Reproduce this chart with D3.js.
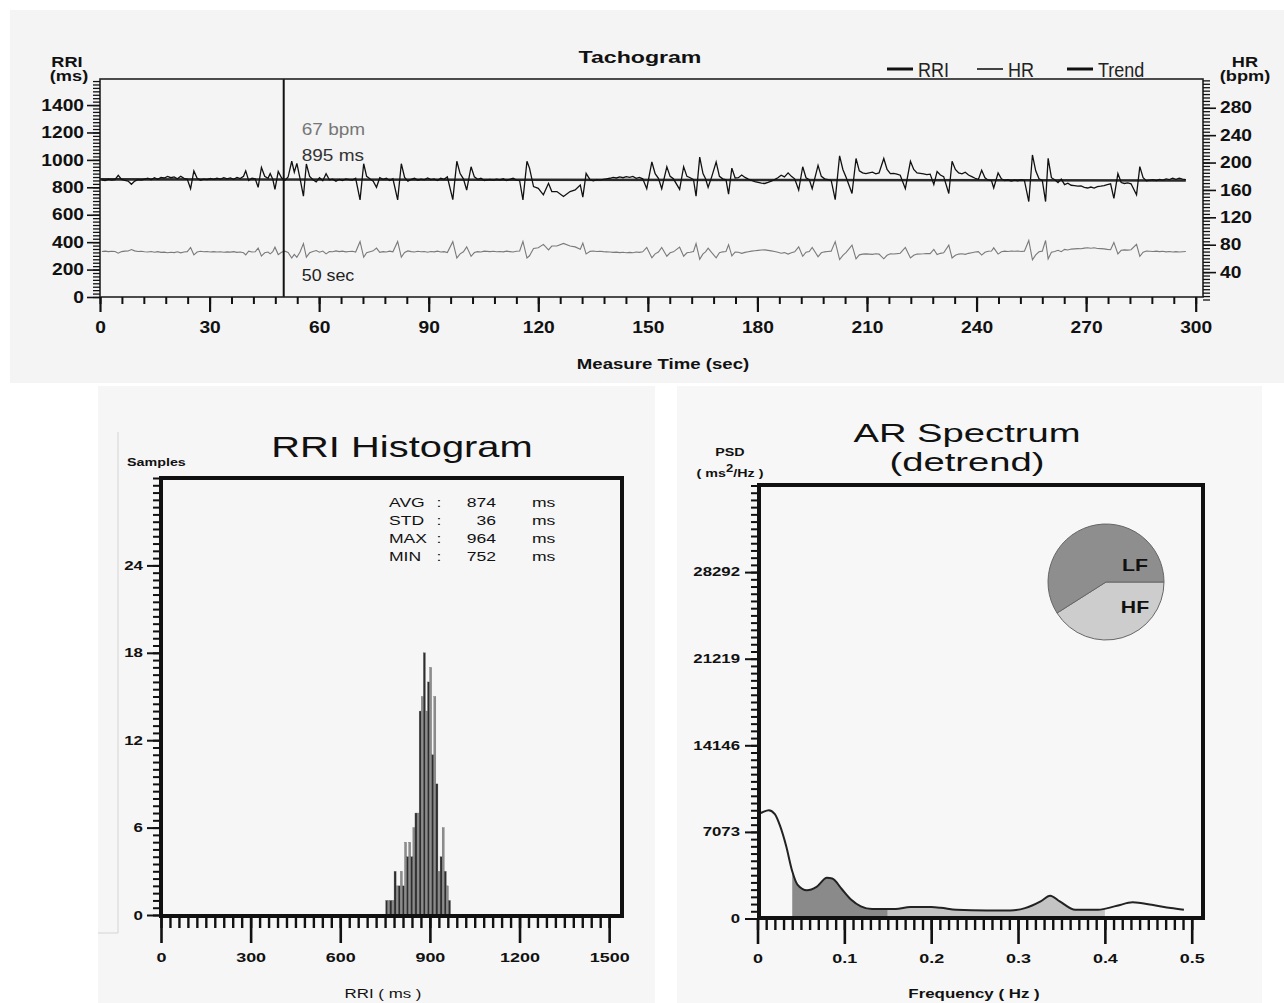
<!DOCTYPE html>
<html>
<head>
<meta charset="utf-8">
<script src="https://cdn.jsdelivr.net/npm/d3@7"></script>
<style>
  body { margin: 0; background: #fff; }
  svg { display: block; font-family: "Liberation Sans", Arial, sans-serif; }
</style>
</head>
<body>
<svg id="chart" width="1284" height="1003"></svg>
<script>
// ---- tachogram data: [time (s), RRI (ms)] read beat by beat off the trace
const rriBeats = [
  [0.5,855],[1.4,850],[2.3,858],[3.2,852],[4.1,856],[5.0,888],[5.9,858],[6.8,850],[7.7,846],[8.6,822],
  [9.5,845],[10.4,856],[11.3,852],[12.2,860],[13.1,866],[14.0,855],[14.9,870],[15.8,858],[16.7,872],[17.6,868],
  [18.5,880],[19.4,870],[20.3,876],[21.2,862],[22.1,880],[23.0,866],[23.9,858],[24.8,790],[25.7,920],[26.6,866],
  [27.5,852],[28.4,860],[29.3,856],[30.2,864],[31.1,858],[32.0,866],[33.0,860],[33.9,870],[34.8,862],[35.7,868],
  [36.6,858],[37.5,872],[38.4,864],[39.3,880],[39.9,920],[40.7,850],[41.6,866],[42.5,862],[43.3,800],[44.2,945],
  [45.1,880],[46.0,866],[46.6,900],[47.3,860],[47.9,785],[48.8,915],[49.7,870],[50.6,850],[51.5,875],[52.5,990],
  [53.2,910],[53.9,975],[54.8,860],[55.7,735],[56.5,970],[57.4,880],[58.3,855],[59.2,840],[60.1,870],[61.0,848],
  [61.9,900],[62.8,855],[63.7,860],[64.6,845],[65.5,858],[66.4,850],[67.3,862],[68.2,856],[69.1,852],[70.0,866],
  [71.2,708],[72.2,972],[73.0,880],[73.9,862],[74.8,845],[75.7,800],[76.6,870],[77.5,858],[78.4,866],[79.3,850],
  [80.2,862],[81.5,708],[82.5,972],[83.4,872],[84.3,845],[85.2,858],[86.1,866],[87.0,852],[87.9,860],[88.8,855],
  [89.7,868],[90.6,856],[91.5,862],[92.4,850],[93.3,866],[94.2,858],[95.1,876],[96.6,710],[97.7,990],[98.6,900],
  [99.5,862],[100.4,780],[101.6,950],[102.5,876],[103.4,858],[104.3,866],[105.2,850],[106.8,858],[107.7,852],[108.6,860],
  [109.5,855],[110.4,862],[111.3,850],[112.2,858],[113.1,866],[114.0,852],[114.9,848],[115.8,708],[116.9,990],[117.6,940],
  [118.7,805],[120.0,793],[121.4,745],[122.8,829],[123.7,769],[125.1,769],[126.9,733],[128.7,769],[130.1,781],[131.5,817],
  [132.2,728],[133.1,902],[134.2,854],[135.1,848],[136.0,856],[136.9,852],[137.8,858],[138.7,862],[139.6,866],[140.5,872],
  [141.4,868],[142.3,876],[143.2,870],[144.1,878],[145.0,872],[145.9,880],[146.8,866],[147.7,872],[148.6,862],[149.7,790],
  [151.1,985],[152.0,900],[152.9,866],[153.8,790],[155.2,950],[156.1,880],[157.0,862],[158.7,785],[159.8,950],[160.7,880],
  [161.6,870],[162.5,856],[163.2,735],[164.2,1020],[165.1,900],[165.8,862],[166.5,800],[167.5,878],[168.7,985],[169.6,880],
  [170.5,862],[171.4,855],[172.1,750],[173.0,940],[173.9,868],[174.8,870],[175.7,890],[176.6,872],[177.5,860],[178.4,850],
  [179.3,842],[180.2,836],[181.1,830],[182.0,828],[182.9,836],[183.8,845],[184.7,856],[185.6,870],[186.5,888],[187.4,876],
  [188.4,905],[189.3,880],[190.2,862],[191.3,780],[192.4,950],[193.3,870],[194.2,856],[195.0,790],[196.6,960],[197.5,880],
  [198.4,862],[199.3,856],[200.2,850],[201.3,710],[202.5,1030],[203.4,930],[204.3,872],[205.9,755],[207.0,1010],[207.9,920],
  [208.8,905],[209.7,900],[210.6,905],[211.5,910],[212.4,898],[213.3,905],[214.6,1010],[215.5,930],[216.4,900],[217.3,902],
  [218.2,896],[219.1,888],[220.5,790],[221.9,990],[222.8,930],[223.7,905],[224.6,902],[225.5,898],[226.4,892],[227.3,896],
  [228.3,820],[229.2,915],[230.1,890],[231.0,878],[232.4,755],[233.3,990],[234.2,930],[235.1,905],[236.0,898],[236.9,910],
  [237.8,890],[238.7,878],[239.6,866],[240.5,858],[241.4,925],[242.3,870],[243.2,852],[244.1,848],[244.7,795],[245.9,905],
  [246.8,862],[247.7,850],[248.6,855],[249.5,846],[250.4,852],[251.3,848],[252.2,856],[253.1,850],[254.3,696],[255.3,1036],
  [256.2,920],[257.1,862],[258.0,850],[258.9,696],[259.6,1011],[260.5,870],[261.4,855],[262.3,835],[263.2,860],[264.1,820],
  [265.0,830],[265.9,815],[266.8,812],[267.7,808],[268.6,810],[269.5,800],[270.4,795],[271.3,802],[272.2,795],[273.1,805],
  [274.0,808],[274.9,812],[275.8,820],[276.7,825],[277.6,720],[278.7,900],[279.6,835],[280.5,828],[281.4,832],[282.3,826],
  [283.8,745],[284.7,951],[285.6,870],[286.5,848],[287.4,852],[288.3,856],[289.2,850],[290.1,858],[291.0,852],[291.9,862],
  [292.8,856],[293.7,866],[294.6,858],[295.5,866],[296.4,860],[297.3,856]
];
const trendTimes = [0, 297.3];
const trendValues = [858, 850];
const cursorTime = 50.3;
const cursorLabels = ["67 bpm", "895 ms", "50 sec"];
const legendItems = ["RRI", "HR", "Trend"];

// ---- histogram data
const binStarts = [752,759,766,773,780,787,794,801,808,815,822,829,836,843,850,857,864,871,878,885,892,899,906,913,920,927,934,941,948,955,962];
const binCounts = [1,1,1,1,3,2,2,3,2,5,4,5,4,6,7,7,14,15,18,14,16,17,11,15,9,3,4,6,3,2,1];
const binWidth = 7;
const statLabels = ["AVG", "STD", "MAX", "MIN"];
const statValues = [874, 36, 964, 752];

// ---- AR spectrum data
const freqs = [0,0.005,0.013,0.02,0.026,0.033,0.04,0.046,0.057,0.068,0.08,0.086,0.097,0.108,0.119,0.132,0.159,
  0.176,0.2,0.211,0.229,0.264,0.291,0.308,0.326,0.337,0.348,0.366,0.392,0.414,0.432,0.454,0.476,0.491];
const psd = [8520,8660,8850,8520,7560,5920,3860,2770,2300,2580,3320,3260,2410,1530,990,770,770,
  930,930,880,710,660,660,850,1400,1860,1400,710,710,1040,1320,1120,850,710];
const psdTicks = [0, 7073, 14146, 21219, 28292];
const pieLabels = ["HF", "LF"];
const pieValues = [41, 59];

const FONT = '"Liberation Sans", Arial, sans-serif';
const svg = d3.select("#chart");
const plain = d3.format("d");

// stretch text horizontally (the scan is wider than tall)
const stretch = (sel, k) => {
    sel.each(function() {
        const t = d3.select(this);
        const x = +t.attr("x") || 0, y = +t.attr("y") || 0;
        t.attr("transform", `translate(${x},${y}) scale(${k},1)`).attr("x", 0).attr("y", 0);
    });
};

const addText = (g, x, y, str, size, opts = {}) => {
    const t = g.append("text")
        .attr("x", x).attr("y", y)
        .attr("text-anchor", opts.anchor || "middle")
        .attr("font-size", size)
        .attr("font-weight", opts.bold ? "bold" : "normal")
        .attr("fill", opts.fill || "#111")
        .text(str);
    stretch(t, opts.k || 1.3);
    return t;
};

const styleAxis = (g, width, size, k, bold = true) => {
    g.select(".domain").remove();
    g.selectAll("line").attr("stroke", "#111").attr("stroke-width", width);
    g.selectAll("text")
        .attr("font-size", size)
        .attr("font-family", FONT)
        .attr("font-weight", bold ? "bold" : "normal")
        .attr("fill", "#111");
    stretch(g.selectAll("text"), k);
};

// ---- backgrounds
svg.append("rect").attr("x", 10).attr("y", 10).attr("width", 1274).attr("height", 373).attr("fill", "#f4f4f4");
svg.append("rect").attr("x", 98).attr("y", 386).attr("width", 557).attr("height", 617).attr("fill", "#f6f6f6");
svg.append("rect").attr("x", 677).attr("y", 386).attr("width", 585).attr("height", 617).attr("fill", "#f7f7f7");
svg.append("path").attr("d", "M118,432V933H98").attr("fill", "none").attr("stroke", "#d4d4d4").attr("stroke-width", 1);

// =============== Tachogram ===============
const tach = svg.append("g");
const xT = d3.scaleLinear().domain([0, 302]).range([100, 1203]);
const yRRI = d3.scaleLinear().domain([0, 1590]).range([297, 79]);
const yHR = d3.scaleLinear().domain([0, 322]).range([299.5, 79]);

const hrBeats = rriBeats.map(d => [d[0], 60000 / d[1]]);

tach.append("path")
    .datum(hrBeats)
    .attr("fill", "none")
    .attr("stroke", "#7a7a7a")
    .attr("stroke-width", 1.1)
    .attr("d", d3.line().x(d => xT(d[0])).y(d => yHR(d[1])));

tach.append("path")
    .datum(trendTimes.map((t, i) => [t, trendValues[i]]))
    .attr("fill", "none")
    .attr("stroke", "#2a2a2a")
    .attr("stroke-width", 2.6)
    .attr("d", d3.line().x(d => xT(d[0])).y(d => yRRI(d[1])));

tach.append("path")
    .datum(rriBeats)
    .attr("fill", "none")
    .attr("stroke", "#111")
    .attr("stroke-width", 1.3)
    .attr("d", d3.line().x(d => xT(d[0])).y(d => yRRI(d[1])));

// cursor
tach.append("line")
    .attr("x1", xT(cursorTime)).attr("x2", xT(cursorTime))
    .attr("y1", yRRI.range()[1]).attr("y2", yRRI.range()[0])
    .attr("stroke", "#111").attr("stroke-width", 2);
addText(tach, xT(cursorTime) + 18, 135, cursorLabels[0], 17, { anchor: "start", fill: "#777", k: 1.12 });
addText(tach, xT(cursorTime) + 18, 161, cursorLabels[1], 17, { anchor: "start", fill: "#333", k: 1.12 });
addText(tach, xT(cursorTime) + 18, 281, cursorLabels[2], 17, { anchor: "start", fill: "#222", k: 1.05 });

// frame
tach.append("rect")
    .attr("x", 100).attr("y", 79).attr("width", 1103).attr("height", 218)
    .attr("fill", "none").attr("stroke", "#222").attr("stroke-width", 1.6);

// left axis
tach.append("g").attr("transform", "translate(100,0)")
    .call(d3.axisLeft(yRRI).tickValues(d3.range(0, 1576, 25)).tickSize(7).tickFormat(""))
    .call(g => styleAxis(g, 1.3, 15, 1.2));
tach.append("g").attr("transform", "translate(100,0)")
    .call(d3.axisLeft(yRRI).tickValues(d3.range(0, 1401, 200)).tickSize(13).tickPadding(3).tickFormat(plain))
    .call(g => styleAxis(g, 1.6, 16, 1.2));

// right axis (HR)
tach.append("g").attr("transform", "translate(1203,0)")
    .call(d3.axisRight(yHR).tickValues(d3.range(0, 321, 5)).tickSize(7).tickFormat(""))
    .call(g => styleAxis(g, 1.3, 15, 1.2));
tach.append("g").attr("transform", "translate(1203,0)")
    .call(d3.axisRight(yHR).tickValues(d3.range(40, 281, 40)).tickSize(13).tickPadding(4).tickFormat(plain))
    .call(g => styleAxis(g, 1.6, 16, 1.2));

// bottom axis
tach.append("g").attr("transform", "translate(0,297)")
    .call(d3.axisBottom(xT).tickValues(d3.range(0, 301, 6)).tickSize(7).tickFormat(""))
    .call(g => styleAxis(g, 2, 15, 1.2));
tach.append("g").attr("transform", "translate(0,297)")
    .call(d3.axisBottom(xT).tickValues(d3.range(0, 301, 30)).tickSize(15).tickPadding(10).tickFormat(plain))
    .call(g => styleAxis(g, 2.2, 16, 1.2));

addText(tach, 640, 63, "Tachogram", 17, { bold: true, k: 1.36 });
addText(tach, 67, 67, "RRI", 14, { bold: true, k: 1.3 });
addText(tach, 69, 81, "(ms)", 14, { bold: true, k: 1.3 });
addText(tach, 1245, 67, "HR", 14, { bold: true, k: 1.3 });
addText(tach, 1245, 81, "(bpm)", 14, { bold: true, k: 1.3 });
addText(tach, 663, 369, "Measure Time (sec)", 14, { bold: true, k: 1.33 });

// legend
const legend = tach.selectAll(".legend")
    .data(legendItems)
    .join("g")
        .attr("class", "legend")
        .attr("transform", (d, i) => `translate(${887 + i * 90},0)`);
legend.append("line")
    .attr("x1", 0).attr("x2", 26).attr("y1", 69).attr("y2", 69)
    .attr("stroke", (d, i) => i === 1 ? "#444" : "#111")
    .attr("stroke-width", (d, i) => i === 1 ? 2 : 3);
legend.each(function(d) {
    addText(d3.select(this), 31, 77, d, 20, { anchor: "start", k: 0.9, fill: "#222" });
});

// =============== RRI Histogram ===============
const hist = svg.append("g");
const xH = d3.scaleLinear().domain([0, 1543]).range([161, 622]);
const yH = d3.scaleLinear().domain([0, 30]).range([915, 478]);

hist.selectAll("rect.bar")
    .data(binStarts)
    .join("rect")
        .attr("class", "bar")
        .attr("x", d => xH(d))
        .attr("width", d => xH(d + binWidth) - xH(d))
        .attr("y", (d, i) => yH(binCounts[i]))
        .attr("height", (d, i) => yH(0) - yH(binCounts[i]))
        .attr("fill", (d, i) => i % 2 === 0 ? "#2e2e2e" : "#8c8c8c")
        .attr("stroke", "#666")
        .attr("stroke-width", 0.3);

hist.append("rect")
    .attr("x", 161).attr("y", 478).attr("width", 461).attr("height", 438)
    .attr("fill", "none").attr("stroke", "#111").attr("stroke-width", 4);

hist.append("g").attr("transform", "translate(159,0)")
    .call(d3.axisLeft(yH).tickValues(d3.range(0, 30.1, 0.5)).tickSize(6).tickFormat(""))
    .call(g => styleAxis(g, 2, 13, 1.3));
hist.append("g").attr("transform", "translate(159,0)")
    .call(d3.axisLeft(yH).tickValues([0, 6, 12, 18, 24]).tickSize(12).tickPadding(4).tickFormat(plain))
    .call(g => styleAxis(g, 2, 13, 1.3));
hist.append("g").attr("transform", "translate(0,918)")
    .call(d3.axisBottom(xH).tickValues(d3.range(0, 1501, 30)).tickSize(10).tickFormat(""))
    .call(g => styleAxis(g, 2.4, 13, 1.3));
hist.append("g").attr("transform", "translate(0,918)")
    .call(d3.axisBottom(xH).tickValues(d3.range(0, 1501, 300)).tickSize(25).tickPadding(9).tickFormat(plain))
    .call(g => styleAxis(g, 2.6, 13.5, 1.33));

addText(hist, 402, 457, "RRI Histogram", 30, { k: 1.33 });
addText(hist, 127, 466, "Samples", 11, { anchor: "start", bold: true, k: 1.3 });
addText(hist, 383, 998, "RRI ( ms )", 13, { k: 1.3 });

statLabels.forEach((lab, i) => {
    const y = 507 + i * 18;
    addText(hist, 389, y, lab, 13.5, { anchor: "start", k: 1.3 });
    addText(hist, 439, y, ":", 13.5, { k: 1.3 });
    addText(hist, 496, y, statValues[i], 13.5, { anchor: "end", k: 1.3 });
    addText(hist, 532, y, "ms", 13.5, { anchor: "start", k: 1.3 });
});

// =============== AR Spectrum ===============
const spec = svg.append("g");
const xS = d3.scaleLinear().domain([0, 0.513]).range([757.5, 1203]);
const yS = d3.scaleLinear().domain([0, 35365]).range([918.5, 485.5]);
const specData = freqs.map((f, i) => [f, psd[i]]);

const bands = [
    { id: "lf", lo: 0.04, hi: 0.15, fill: "#8a8a8a" },
    { id: "hf", lo: 0.15, hi: 0.40, fill: "#c4c4c4" }
];
const defs = svg.append("defs");
bands.forEach(b => {
    defs.append("clipPath").attr("id", "clip-" + b.id)
        .append("rect")
        .attr("x", xS(b.lo)).attr("width", xS(b.hi) - xS(b.lo))
        .attr("y", 480).attr("height", 440);
    spec.append("path")
        .datum(specData)
        .attr("clip-path", `url(#clip-${b.id})`)
        .attr("fill", b.fill)
        .attr("d", d3.area().curve(d3.curveMonotoneX)
            .x(d => xS(d[0])).y0(yS(0) - 2).y1(d => yS(d[1])));
});

spec.append("path")
    .datum(specData)
    .attr("fill", "none")
    .attr("stroke", "#222")
    .attr("stroke-width", 2)
    .attr("d", d3.line().curve(d3.curveMonotoneX).x(d => xS(d[0])).y(d => yS(d[1])));

spec.append("rect")
    .attr("x", 759).attr("y", 485).attr("width", 444).attr("height", 433)
    .attr("fill", "none").attr("stroke", "#111").attr("stroke-width", 4);

spec.append("g").attr("transform", "translate(757,0)")
    .call(d3.axisLeft(yS).tickValues(d3.range(0, 35365, 7073 / 12)).tickSize(6).tickFormat(""))
    .call(g => styleAxis(g, 2, 12, 1.3));
spec.append("g").attr("transform", "translate(757,0)")
    .call(d3.axisLeft(yS).tickValues(psdTicks).tickSize(12).tickPadding(5).tickFormat(plain))
    .call(g => styleAxis(g, 2, 12, 1.4));
spec.append("g").attr("transform", "translate(0,920)")
    .call(d3.axisBottom(xS).tickValues(d3.range(0, 0.5001, 0.01)).tickSize(10).tickFormat(""))
    .call(g => styleAxis(g, 2.4, 13, 1.3));
spec.append("g").attr("transform", "translate(0,920)")
    .call(d3.axisBottom(xS).tickValues(d3.range(0, 0.5001, 0.1)).tickSize(24).tickPadding(9).tickFormat(d3.format(".1~f")))
    .call(g => styleAxis(g, 2.6, 13.5, 1.33));

addText(spec, 967, 442, "AR Spectrum", 26, { k: 1.47 });
addText(spec, 967, 471, "(detrend)", 26, { k: 1.47 });
addText(spec, 730, 456, "PSD", 11, { bold: true, k: 1.3 });
const unit = spec.append("text")
    .attr("x", 730).attr("y", 477)
    .attr("text-anchor", "middle")
    .attr("font-size", 11).attr("font-weight", "bold").attr("fill", "#111");
unit.append("tspan").text("( ms");
unit.append("tspan").attr("dy", -5).attr("font-size", 10).text("2");
unit.append("tspan").attr("dy", 5).text("/Hz )");
stretch(unit, 1.3);
addText(spec, 974, 998, "Frequency ( Hz )", 13, { bold: true, k: 1.3 });

// LF / HF pie
const pieG = spec.append("g").attr("transform", "translate(1106,582)");
const pie = d3.pie().sort(null).startAngle(Math.PI / 2).endAngle(Math.PI / 2 + 2 * Math.PI);
const arc = d3.arc().innerRadius(0).outerRadius(58);
pieG.selectAll("path")
    .data(pie(pieValues))
    .join("path")
        .attr("d", arc)
        .attr("fill", (d, i) => pieLabels[i] === "LF" ? "#8e8e8e" : "#cdcdcd")
        .attr("stroke", "#666")
        .attr("stroke-width", 1);
pieLabels.forEach((lab, i) => {
    addText(pieG, 29, lab === "LF" ? -11 : 31, lab, 17, { bold: true, k: 1.25 });
});
</script>
</body>
</html>
